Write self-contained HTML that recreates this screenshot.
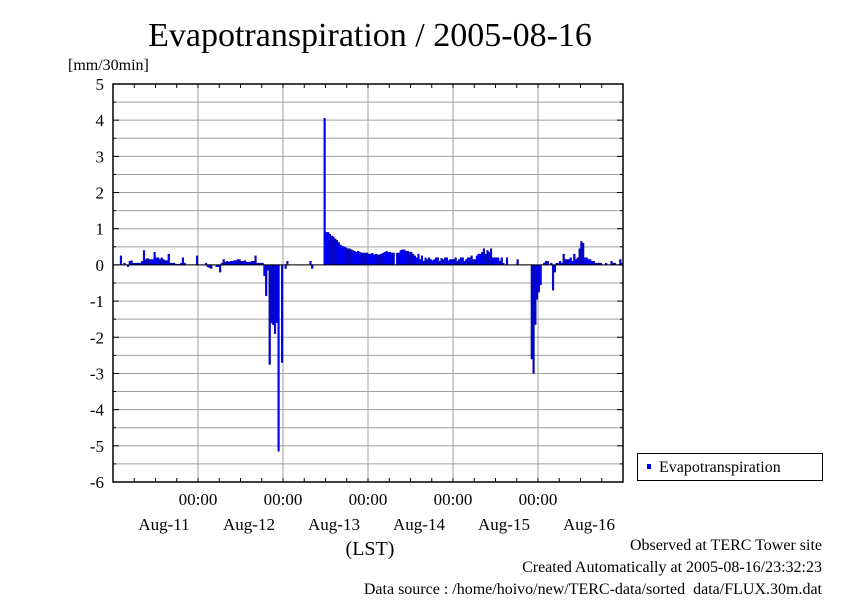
<!DOCTYPE html>
<html><head><meta charset="utf-8"><style>
body{margin:0;background:#fff;}
svg text{font-family:"Liberation Serif",serif;fill:#000;}
</style></head><body>
<svg width="842" height="595" viewBox="0 0 842 595" xmlns="http://www.w3.org/2000/svg">
<rect x="0" y="0" width="842" height="595" fill="#fff"/>
<text x="370" y="46" font-size="34" text-anchor="middle">Evapotranspiration / 2005-08-16</text>
<text x="68" y="70" font-size="16">[mm/30min]</text>
<g id="grid"></g>
<g id="bars"></g>
<g id="axes"></g>
<text x="370" y="555" font-size="20" text-anchor="middle">(LST)</text>
<g>
<rect x="637.5" y="453.5" width="185" height="27" fill="#fff" stroke="#000"/>
<rect x="647" y="464" width="4" height="5" fill="#0000ff"/>
<text x="659" y="472" font-size="16">Evapotranspiration</text>
</g>
<text x="822" y="550" font-size="16" text-anchor="end">Observed at TERC Tower site</text>
<text x="822" y="572" font-size="16" text-anchor="end">Created Automatically at 2005-08-16/23:32:23</text>
<text x="822" y="594" font-size="16" text-anchor="end">Data source : /home/hoivo/new/TERC-data/sorted_data/FLUX.30m.dat</text>
</svg>
<script>
const dayLabels=["Aug-11","Aug-12","Aug-13","Aug-14","Aug-15","Aug-16"];
const yTicks=[5,4,3,2,1,0,-1,-2,-3,-4,-5,-6];
const day1=[0,0,0,0,0.25,0,0.05,0,-0.05,0.1,0.12,0.05,0.05,0.05,0.05,0.05,0.1,0.4,0.15,0.18,0.15,0.15,0.15,0.35,0.2,0.2,0.15,0.2,0.15,0.12,0.12,0.3,0.05,0.05,0.05,0.02,0.02,0.02,0.05,0.2,0.05,0,0,0,0,0,0,0.25];
const day2=[0,0,0,0,0.05,-0.05,-0.08,-0.1,0,0,-0.05,-0.05,-0.2,0.05,0.15,0.08,0.1,0.08,0.1,0.1,0.12,0.12,0.15,0.15,0.1,0.1,0.12,0.08,0.08,0.08,0.1,0.1,0.25,0.05,0.05,0.05,0.05,-0.3,-0.85,-0.15,-2.75,-1.6,-1.65,-1.9,-1.6,-5.15,0,-2.7];
const day3=[0,-0.1,0.1,0,0,0,0,0,0,0,0,0,0,0,0,0.1,-0.1,0,0,0,0,0,0,4.05,0.9,0.9,0.85,0.8,0.78,0.72,0.68,0.62,0.55,0.52,0.5,0.48,0.45,0.45,0.42,0.4,0.38,0.35,0.38,0.35,0.33,0.33,0.33,0.33];
const day4=[0.3,0.3,0.32,0.28,0.3,0.28,0.28,0.3,0.32,0.35,0.38,0.35,0.35,0.33,0.33,0,0.33,0.33,0.4,0.42,0.42,0.38,0.38,0.35,0.35,0.3,0.25,0.2,0.3,0.15,0.25,0.1,0.2,0.15,0.2,0.15,0.12,0.15,0.2,0.2,0.1,0.18,0.15,0.2,0.2,0.12,0.15,0.15];
const day5=[0.15,0.2,0.1,0.15,0.2,0.2,0.1,0.15,0.2,0.2,0.25,0.15,0.15,0.25,0.3,0.3,0.35,0.45,0.3,0.4,0.35,0.45,0.2,0.2,0.2,0.2,0.1,0.2,0.05,0,0.2,0,0,0,0,0,0.15,0,0,0,0,0,0,0,-2.6,-3.0,-1.65,-0.95];
const day6=[-0.75,-0.55,0,0.05,0.1,0.1,0,0.05,-0.7,-0.2,0.05,0.05,0.1,0.05,0.3,0.15,0.15,0.15,0.2,0.1,0.3,0.15,0.2,0.45,0.65,0.6,0.2,0.2,0.15,0.15,0.1,0.1,0.05,0.05,0.05,0.05,0,0,0.05,0,0,0.1,0.05,0.05,0,0,0.15,0.05];
const values=[].concat(day1,day2,day3,day4,day5,day6);

const X0=113,X1=623,Y0=84,Y1=482,YMAX=5,YMIN=-6,N=288;
const dx=(X1-X0)/N;
const xs=i=>X0+i*dx;
const ys=v=>Y0+(YMAX-v)*(Y1-Y0)/(YMAX-YMIN);
const NS="http://www.w3.org/2000/svg";
function mk(tag,attrs,parent){const e=document.createElementNS(NS,tag);for(const k in attrs)e.setAttribute(k,attrs[k]);parent.appendChild(e);return e;}
const grid=document.getElementById('grid'),bars=document.getElementById('bars'),axes=document.getElementById('axes');
for(let v=YMIN;v<=YMAX;v+=0.5){
  const l=mk('line',{x1:X0,x2:X1,y1:ys(v),y2:ys(v),stroke:'#a0a0a0','stroke-width':1},grid);
  
  
}
for(let d=1;d<6;d++){
  const x=X0+d*48*dx;
  const l=mk('line',{x1:x,x2:x,y1:Y0,y2:Y1,stroke:'#a0a0a0','stroke-width':1},grid);
  
  
}
values.forEach((v,i)=>{
  if(v===0)return;
  const y=Math.min(ys(v),ys(0)),h=Math.abs(ys(v)-ys(0));
  const r=mk('rect',{x:xs(i),y:y,width:dx,height:Math.max(h,1),fill:'#0000ff',stroke:'#00008b','stroke-width':0.4},bars);
  
  
});
const z=mk('line',{x1:X0,x2:X1,y1:ys(0),y2:ys(0),stroke:'#000','stroke-width':1},axes);


const fr=mk('rect',{x:X0,y:Y0,width:X1-X0,height:Y1-Y0,fill:'none',stroke:'#000','stroke-width':1.5},axes);


for(let v=YMIN;v<=YMAX;v+=0.5){
  const major=Number.isInteger(v),len=major?6:3;
  mk('line',{x1:X0,x2:X0+len,y1:ys(v),y2:ys(v),stroke:'#000'},axes);
  mk('line',{x1:X1,x2:X1-len,y1:ys(v),y2:ys(v),stroke:'#000'},axes);
}
yTicks.forEach(v=>{
  const t=mk('text',{x:104,y:ys(v)+6,'font-size':17,'text-anchor':'end'},axes);
  t.textContent=String(v);
  
  
});
for(let k=1;k<24;k++){
  const x=X0+k*12*dx;
  mk('line',{x1:x,x2:x,y1:Y0,y2:Y0+4,stroke:'#000'},axes);
  mk('line',{x1:x,x2:x,y1:Y1,y2:Y1-4,stroke:'#000'},axes);
}
for(let d=1;d<6;d++){
  const t=mk('text',{x:X0+d*48*dx,y:505,'font-size':17,'text-anchor':'middle'},axes);
  t.textContent='00:00';
  
  
}
dayLabels.forEach((s,d)=>{
  const t=mk('text',{x:X0+(d+0.6)*48*dx,y:530,'font-size':17,'text-anchor':'middle'},axes);
  t.textContent=s;
  
  
});
</script>
</body></html>
